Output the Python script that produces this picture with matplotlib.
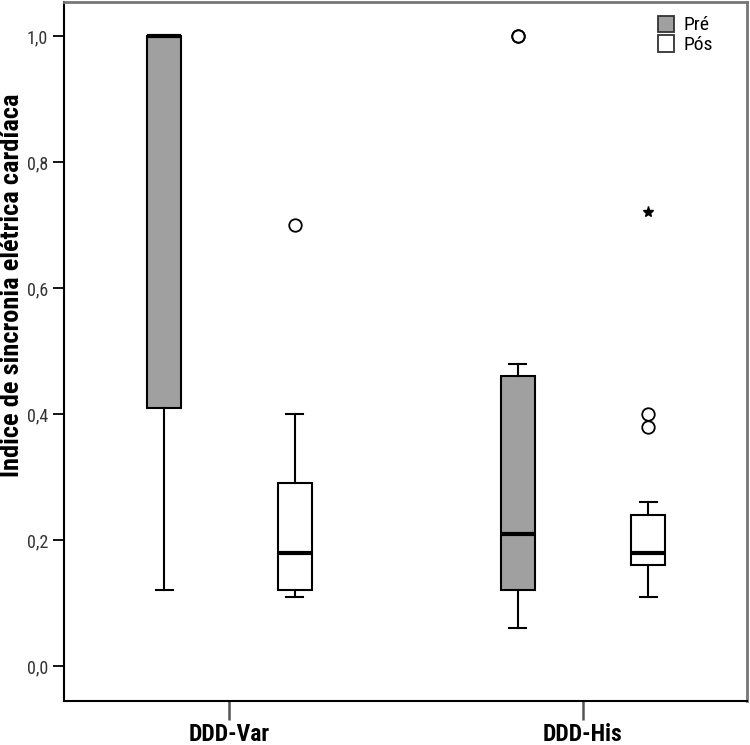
import matplotlib
matplotlib.use("Agg")
import matplotlib.pyplot as plt
from matplotlib.patches import Patch
from matplotlib import font_manager

names = {f.name for f in font_manager.fontManager.ttflist}
prefs = ['Arial Narrow', 'Liberation Sans Narrow', 'Roboto Condensed', 'PT Sans Narrow',
         'Archivo Narrow', 'Fira Sans Condensed', 'Liberation Sans']
fam = [n for n in prefs if n in names][:1] + ['DejaVu Sans']
plt.rcParams['font.family'] = fam

groups = ['DDD-Var', 'DDD-His']
series = ['Pré', 'Pós']
colors = ['#a0a0a0', 'white']

# box stats: whislo, q1, med, q3, whishi
pre_stats = [(0.12, 0.41, 1.00, 1.00, 1.00), (0.06, 0.12, 0.21, 0.46, 0.48)]
pos_stats = [(0.11, 0.12, 0.18, 0.29, 0.40), (0.11, 0.16, 0.18, 0.24, 0.26)]
pre_outliers = [[], [1.0, 1.0]]
pos_outliers = [[0.70], [0.40, 0.38]]
pos_extremes = [[], [0.72]]

fig = plt.figure(figsize=(7.5, 7.45), dpi=100)
ax = fig.add_axes([64/750, 44/745, (747-64)/750, (701-2)/745])

offset = 0.185
width = 0.096

for si, (stats, outl) in enumerate([(pre_stats, pre_outliers), (pos_stats, pos_outliers)]):
    bxp = []
    for s in stats:
        bxp.append(dict(whislo=s[0], q1=s[1], med=s[2], q3=s[3], whishi=s[4], fliers=[]))
    pos = [i + (offset if si else -offset) for i in range(len(groups))]
    ax.bxp(bxp, positions=pos, widths=width, patch_artist=True, showfliers=False,
           boxprops=dict(facecolor=colors[si], edgecolor='black', linewidth=1.5),
           medianprops=dict(color='black', linewidth=3),
           whiskerprops=dict(color='black', linewidth=1.5),
           capprops=dict(color='black', linewidth=1.5),
           capwidths=width * 0.5, manage_ticks=False)
    for p, vals in zip(pos, outl):
        ax.plot([p] * len(vals), vals, 'o', mfc='none', mec='black', ms=9, mew=1.3, ls='none')
    if si == 1:
        for p, vals in zip(pos, pos_extremes):
            ax.plot([p] * len(vals), vals, '*', color='black', ms=8, ls='none')

ax.set_xlim(-0.468, 1.464)
ax.set_ylim(-0.0556, 1.054)
ax.set_xticks(range(len(groups)))
ax.set_xticklabels(groups, fontsize=17, fontweight='bold')
ax.set_yticks([0, 0.2, 0.4, 0.6, 0.8, 1.0])
ax.set_yticklabels(['0,0', '0,2', '0,4', '0,6', '0,8', '1,0'], fontsize=13, color='#333333')
ax.tick_params(axis='y', length=8, width=1.3)
ax.tick_params(axis='x', length=14, width=1.8, color='#555555', pad=2)
ax.set_ylabel('Índice de sincronia elétrica cardíaca', fontsize=19, fontweight='bold')
ax.yaxis.set_label_coords(-0.059, 0.595)

for sp in ['left', 'bottom']:
    ax.spines[sp].set_linewidth(1.5)
for sp in ['top', 'right']:
    ax.spines[sp].set_color('#777777')
    ax.spines[sp].set_linewidth(2)

handles = [Patch(facecolor=c, edgecolor='#333333', linewidth=1.3) for c in colors]
ax.legend(handles, series, loc='upper right', frameon=False, fontsize=14,
          handlelength=0.8, handleheight=0.9, handletextpad=0.5, labelspacing=0.05,
          borderaxespad=0.3, bbox_to_anchor=(0.97, 1.0))

fig.savefig('out.png', dpi=100)
